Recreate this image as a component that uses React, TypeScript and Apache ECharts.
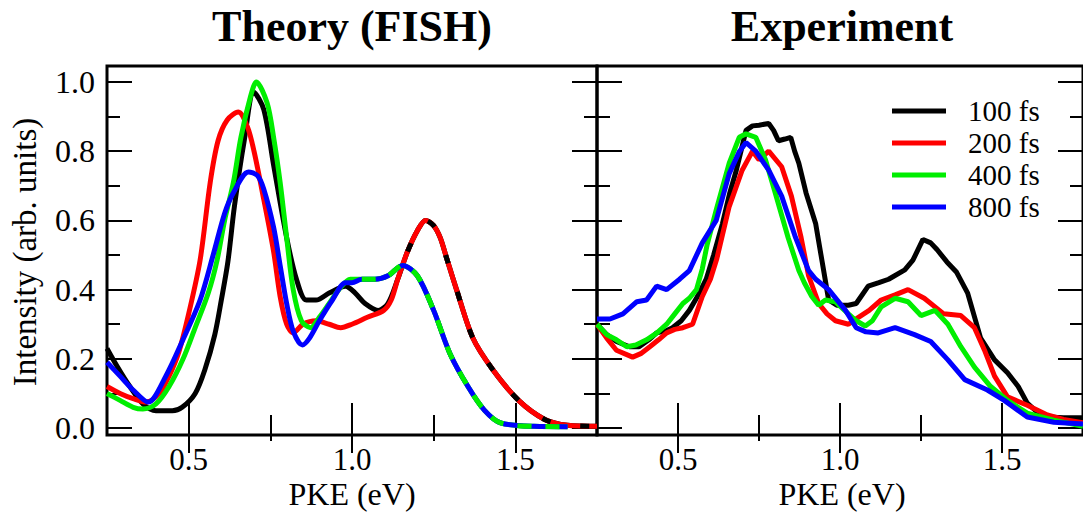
import React, { useEffect, useRef } from "react";
import * as echarts from "echarts";

// ---------- data ----------
const seriesNames = ["100 fs", "200 fs", "400 fs", "800 fs"];
const seriesColors = ["#000000", "#ff0000", "#00ee00", "#0000ff"];

const majorX = [0.5, 1.0, 1.5];
const minorX = [0.75, 1.25];
const majorY = [0, 0.2, 0.4, 0.6, 0.8, 1.0];
const minorY = [0.1, 0.3, 0.5, 0.7, 0.9];

const theory100: number[][] = [
  [0.25, 0.23], [0.28, 0.18], [0.32, 0.12], [0.36, 0.07], [0.40, 0.05], [0.45, 0.05], [0.48, 0.06],
  [0.52, 0.10], [0.55, 0.17], [0.58, 0.27], [0.60, 0.37], [0.62, 0.48], [0.64, 0.64], [0.67, 0.83],
  [0.70, 0.97], [0.73, 0.92], [0.76, 0.76], [0.80, 0.55], [0.83, 0.43], [0.86, 0.37], [0.89, 0.37],
  [0.93, 0.39], [0.98, 0.41], [1.01, 0.39], [1.04, 0.36], [1.08, 0.34], [1.11, 0.36], [1.14, 0.43],
  [1.17, 0.51], [1.20, 0.57], [1.225, 0.60], [1.25, 0.585], [1.27, 0.55], [1.29, 0.49], [1.32, 0.40],
  [1.37, 0.26], [1.43, 0.17], [1.51, 0.08], [1.59, 0.025], [1.66, 0.008], [1.75, 0.005],
];
const theory200: number[][] = [
  [0.25, 0.12], [0.29, 0.10], [0.33, 0.085], [0.37, 0.075], [0.41, 0.10], [0.44, 0.15], [0.47, 0.22],
  [0.50, 0.33], [0.535, 0.485], [0.566, 0.71], [0.59, 0.83], [0.618, 0.89], [0.652, 0.913], [0.68, 0.87],
  [0.70, 0.80], [0.73, 0.66], [0.76, 0.51], [0.78, 0.38], [0.80, 0.30], [0.82, 0.275], [0.85, 0.30],
  [0.89, 0.31], [0.93, 0.30], [0.965, 0.29], [1.00, 0.30], [1.047, 0.32], [1.097, 0.34], [1.12, 0.37],
  [1.14, 0.43], [1.17, 0.51], [1.20, 0.57], [1.225, 0.60], [1.25, 0.585], [1.27, 0.55], [1.29, 0.49],
  [1.32, 0.40], [1.37, 0.26], [1.43, 0.17], [1.51, 0.08], [1.59, 0.025], [1.66, 0.008], [1.75, 0.005],
];
const theory400: number[][] = [
  [0.25, 0.10], [0.29, 0.08], [0.33, 0.06], [0.36, 0.055], [0.40, 0.07], [0.44, 0.12], [0.483, 0.20],
  [0.52, 0.29], [0.56, 0.39], [0.587, 0.485], [0.61, 0.60], [0.637, 0.71], [0.66, 0.84], [0.69, 0.96],
  [0.707, 1.0], [0.74, 0.94], [0.76, 0.84], [0.78, 0.71], [0.80, 0.55], [0.82, 0.40], [0.845, 0.31],
  [0.873, 0.29], [0.90, 0.32], [0.93, 0.36], [0.96, 0.40], [0.995, 0.43], [1.03, 0.43], [1.07, 0.43],
  [1.11, 0.44], [1.155, 0.47], [1.20, 0.44], [1.25, 0.34], [1.30, 0.215], [1.355, 0.12], [1.405, 0.052],
  [1.455, 0.015], [1.557, 0.005], [1.66, 0.004],
];
const theory800: number[][] = [
  [0.25, 0.19], [0.29, 0.15], [0.33, 0.11], [0.376, 0.075], [0.43, 0.15], [0.48, 0.25], [0.535, 0.37],
  [0.575, 0.50], [0.61, 0.62], [0.637, 0.68], [0.683, 0.74], [0.71, 0.73], [0.73, 0.69], [0.76, 0.58],
  [0.78, 0.47], [0.80, 0.36], [0.82, 0.28], [0.848, 0.24], [0.87, 0.26], [0.90, 0.31], [0.94, 0.37],
  [0.98, 0.42], [1.00, 0.42], [1.03, 0.43], [1.07, 0.43],
  [1.11, 0.44], [1.155, 0.47], [1.20, 0.44], [1.25, 0.34], [1.30, 0.215], [1.355, 0.12], [1.405, 0.052],
  [1.455, 0.015], [1.557, 0.005], [1.66, 0.004],
];

const exp100: number[][] = [
  [0.25, 0.30], [0.28, 0.27], [0.31, 0.25], [0.35, 0.235], [0.38, 0.235], [0.41, 0.255], [0.434, 0.275],
  [0.46, 0.28], [0.483, 0.29], [0.51, 0.31], [0.535, 0.34], [0.56, 0.38], [0.587, 0.43], [0.61, 0.50],
  [0.637, 0.59], [0.66, 0.68], [0.68, 0.745], [0.71, 0.86], [0.73, 0.873], [0.75, 0.875], [0.78, 0.88],
  [0.795, 0.86], [0.81, 0.83], [0.83, 0.835], [0.848, 0.84], [0.86, 0.80], [0.873, 0.765], [0.895, 0.68],
  [0.925, 0.59], [0.945, 0.48], [0.965, 0.37], [0.99, 0.355], [1.026, 0.355], [1.05, 0.36], [1.087, 0.41],
  [1.12, 0.42], [1.15, 0.43], [1.20, 0.457], [1.225, 0.485], [1.256, 0.545], [1.28, 0.535], [1.30, 0.515],
  [1.33, 0.48], [1.36, 0.45], [1.394, 0.39], [1.434, 0.26], [1.477, 0.197], [1.517, 0.16], [1.55, 0.12],
  [1.578, 0.072], [1.61, 0.045], [1.64, 0.032], [1.69, 0.03], [1.72, 0.03], [1.75, 0.03],
];
const exp200: number[][] = [
  [0.25, 0.30], [0.28, 0.26], [0.31, 0.225], [0.36, 0.205], [0.385, 0.215], [0.413, 0.235], [0.44, 0.255],
  [0.465, 0.275], [0.49, 0.285], [0.515, 0.29], [0.545, 0.30], [0.575, 0.38], [0.60, 0.43], [0.62, 0.49],
  [0.658, 0.64], [0.698, 0.745], [0.73, 0.80], [0.75, 0.775], [0.78, 0.80], [0.82, 0.755], [0.85, 0.67],
  [0.88, 0.55], [0.903, 0.44], [0.934, 0.36], [0.96, 0.33], [0.986, 0.31], [1.026, 0.30], [1.057, 0.32],
  [1.09, 0.34], [1.127, 0.37], [1.17, 0.385], [1.21, 0.40], [1.26, 0.375], [1.32, 0.33], [1.373, 0.325],
  [1.415, 0.29], [1.446, 0.225], [1.477, 0.15], [1.517, 0.09], [1.578, 0.066], [1.64, 0.038], [1.69, 0.025],
  [1.75, 0.015],
];
const exp400: number[][] = [
  [0.25, 0.30], [0.28, 0.27], [0.31, 0.255], [0.342, 0.235], [0.37, 0.24], [0.403, 0.255], [0.435, 0.275],
  [0.465, 0.30], [0.49, 0.33], [0.515, 0.36], [0.535, 0.375], [0.557, 0.40], [0.575, 0.46], [0.59, 0.53],
  [0.618, 0.63], [0.658, 0.765], [0.689, 0.84], [0.71, 0.85], [0.74, 0.84], [0.77, 0.775], [0.80, 0.68],
  [0.84, 0.55], [0.873, 0.455], [0.89, 0.42], [0.913, 0.38], [0.934, 0.355], [0.955, 0.37], [0.985, 0.365],
  [1.026, 0.33], [1.05, 0.31], [1.078, 0.295], [1.10, 0.31], [1.127, 0.35], [1.17, 0.375], [1.21, 0.365],
  [1.25, 0.325], [1.293, 0.34], [1.333, 0.30], [1.373, 0.235], [1.415, 0.176], [1.465, 0.12], [1.517, 0.08],
  [1.578, 0.043], [1.66, 0.023], [1.75, 0.005],
];
const exp800: number[][] = [
  [0.25, 0.315], [0.29, 0.315], [0.33, 0.33], [0.373, 0.365], [0.403, 0.37], [0.434, 0.41], [0.465, 0.40],
  [0.505, 0.43], [0.535, 0.455], [0.575, 0.535], [0.618, 0.60], [0.658, 0.735], [0.69, 0.80], [0.71, 0.825],
  [0.74, 0.80], [0.78, 0.745], [0.82, 0.67], [0.863, 0.55], [0.903, 0.455], [0.925, 0.43], [0.965, 0.40],
  [1.017, 0.34], [1.05, 0.29], [1.08, 0.278], [1.118, 0.275], [1.17, 0.29], [1.23, 0.27], [1.28, 0.25],
  [1.333, 0.197], [1.385, 0.14], [1.455, 0.11], [1.507, 0.08], [1.578, 0.032], [1.66, 0.017], [1.75, 0.012],
];

const theoryData = [theory100, theory200, theory400, theory800];
const expData = [exp100, exp200, exp400, exp800];

const panelTitles = ["Theory (FISH)", "Experiment"];
const xAxisTitle = "PKE (eV)";
const yAxisTitle = "Intensity (arb. units)";

// ---------- layout ----------
const FONT = "Liberation Serif";
const GRID_TOP = 66;
const GRID_H = 369;
const GRID_W = 490;
const GRID_LEFTS = [107, 597];
const X_MIN = 0.25;
const X_MAX = 1.75;
const Y_MIN = -0.02;
const Y_MAX = 1.046;

function xAx(gridIndex: number, position: string, values: number[], len: number, label: boolean) {
  return {
    type: "value",
    gridIndex,
    position,
    min: X_MIN,
    max: X_MAX,
    axisLine: { show: false },
    splitLine: { show: false },
    axisTick: { show: true, inside: true, length: len, customValues: values, lineStyle: { color: "#000", width: 2 } },
    axisLabel: {
      show: label,
      customValues: values,
      margin: 9,
      color: "#000",
      fontSize: 31,
      fontFamily: FONT,
      lineHeight: 31,
      formatter: (v: number) => v.toFixed(1),
    },
  };
}
function yAx(gridIndex: number, position: string, values: number[], len: number, label: boolean) {
  return {
    type: "value",
    gridIndex,
    position,
    min: Y_MIN,
    max: Y_MAX,
    axisLine: { show: false },
    splitLine: { show: false },
    axisTick: { show: true, inside: true, length: len, customValues: values, lineStyle: { color: "#000", width: 2 } },
    axisLabel: {
      show: label,
      customValues: values,
      margin: 12,
      color: "#000",
      fontSize: 32,
      fontFamily: FONT,
      formatter: (v: number) => v.toFixed(1),
    },
  };
}

export default function App() {
  const ref = useRef<HTMLDivElement>(null);
  useEffect(() => {
    if (!ref.current) return;
    const chart = echarts.init(ref.current, null, { renderer: "svg" });
    const xAxes: any[] = [];
    const yAxes: any[] = [];
    const series: any[] = [];
    [0, 1].forEach((g) => {
      xAxes.push(xAx(g, "bottom", majorX, 25, true));
      xAxes.push(xAx(g, "bottom", minorX, 13, false));
      xAxes.push(xAx(g, "top", majorX, 25, false));
      xAxes.push(xAx(g, "top", minorX, 13, false));
      yAxes.push(yAx(g, "left", majorY, 25, g === 0));
      yAxes.push(yAx(g, "left", minorY, 13, false));
      yAxes.push(yAx(g, "right", majorY, 25, false));
      yAxes.push(yAx(g, "right", minorY, 13, false));
      const data = g === 0 ? theoryData : expData;
      data.forEach((d, i) => {
        series.push({
          type: "line",
          name: seriesNames[i],
          xAxisIndex: g * 4,
          yAxisIndex: g * 4,
          data: d,
          showSymbol: false,
          smooth: g === 0 ? 0.3 : false,
          color: seriesColors[i],
          itemStyle: { color: seriesColors[i] },
          lineStyle: { color: seriesColors[i], width: 5 },
        });
      });
    });
    // overlap artefacts in theory panel: black dashed over red, green dashed over blue
    series.push({
      type: "line",
      name: "100 fs overlap",
      xAxisIndex: 0,
      yAxisIndex: 0,
      data: theory100.filter((p) => p[0] >= 1.17),
      showSymbol: false,
      smooth: 0.3,
      lineStyle: { color: seriesColors[0], width: 5, type: [9, 30] },
    });
    series.push({
      type: "line",
      name: "400 fs overlap",
      xAxisIndex: 0,
      yAxisIndex: 0,
      data: theory400.filter((p) => p[0] >= 1.03),
      showSymbol: false,
      smooth: 0.3,
      lineStyle: { color: seriesColors[2], width: 5, type: [14, 14] },
    });

    const graphics: any[] = [];
    panelTitles.forEach((t, g) => {
      graphics.push({
        type: "text",
        x: GRID_LEFTS[g] + GRID_W / 2,
        y: 26,
        style: {
          text: t,
          fontSize: 44,
          fontWeight: "bold",
          fontFamily: FONT,
          fill: "#000",
          textAlign: "center",
          textVerticalAlign: "middle",
        },
      });
      graphics.push({
        type: "text",
        x: GRID_LEFTS[g] + GRID_W / 2,
        y: 494,
        style: {
          text: xAxisTitle,
          fontSize: 32,
          fontFamily: FONT,
          fill: "#000",
          textAlign: "center",
          textVerticalAlign: "middle",
        },
      });
    });
    graphics.push({
      type: "text",
      x: 25,
      y: 252,
      rotation: Math.PI / 2,
      style: {
        text: yAxisTitle,
        fontSize: 33,
        fontFamily: FONT,
        fill: "#000",
        textAlign: "center",
        textVerticalAlign: "middle",
      },
    });

    chart.setOption({
      animation: false,
      backgroundColor: "#fff",
      grid: GRID_LEFTS.map((l) => ({
        left: l,
        top: GRID_TOP,
        width: GRID_W,
        height: GRID_H,
        show: true,
        borderColor: "#000",
        borderWidth: 3,
        backgroundColor: "transparent",
      })),
      xAxis: xAxes,
      yAxis: yAxes,
      legend: {
        data: seriesNames,
        orient: "vertical",
        left: 892,
        top: 95,
        padding: 0,
        itemGap: 0,
        icon: "rect",
        itemWidth: 54,
        itemHeight: 5,
        selectedMode: false,
        textStyle: { fontSize: 29, fontFamily: FONT, color: "#000", lineHeight: 32, padding: [0, 0, 0, 17] },
      },
      series,
      graphic: graphics,
    });
    return () => chart.dispose();
  }, []);
  return <div ref={ref} style={{ position: "absolute", left: 0, top: 0, width: 1083, height: 515 }} />;
}
